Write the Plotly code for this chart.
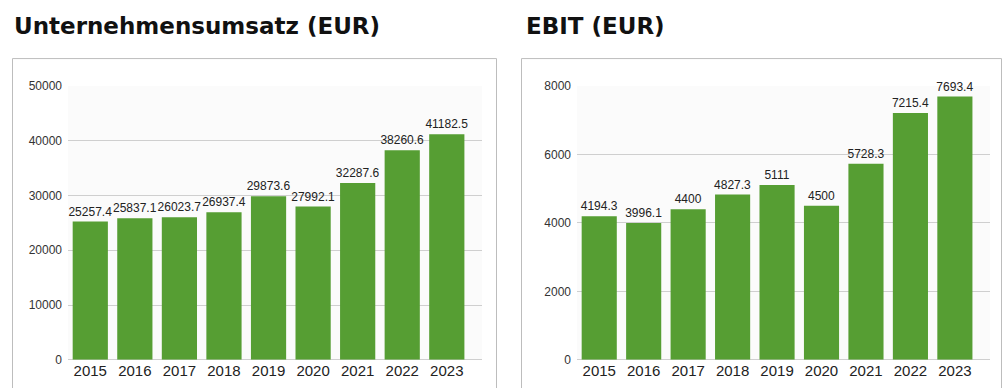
import plotly.graph_objects as go

# Data
years = ["2015", "2016", "2017", "2018", "2019", "2020", "2021", "2022", "2023"]
umsatz = [25257.4, 25837.1, 26023.7, 26937.4, 29873.6, 27992.1, 32287.6, 38260.6, 41182.5]
ebit = [4194.3, 3996.1, 4400, 4827.3, 5111, 4500, 5728.3, 7215.4, 7693.4]
umsatz_ticks = [0, 10000, 20000, 30000, 40000, 50000]
ebit_ticks = [0, 2000, 4000, 6000, 8000]

W, H = 1008, 388
BAR = "#569e33"
GRID = "#cfcfcf"
FONT = "Liberation Sans, Arial, sans-serif"
TITLE_FONT = "DejaVu Sans, sans-serif"


def px_x(v):
    return v / W


def px_y(v):
    return (H - v) / H


def fmt(v):
    return f"{v:g}"


fig = go.Figure()

for vals, xa, ya in [(umsatz, "x", "y"), (ebit, "x2", "y2")]:
    fig.add_trace(go.Bar(
        x=years, y=vals, xaxis=xa, yaxis=ya,
        marker=dict(color=BAR, line=dict(width=0)), width=0.79,
        text=[fmt(v) for v in vals], textposition="outside",
        constraintext="none",
        textfont=dict(family=FONT, size=12, color="#222"),
        cliponaxis=False, showlegend=False,
    ))

ydom = [px_y(366), px_y(82)]
xcommon = dict(
    type="category", range=[-0.5, 8.79], showgrid=False, showline=False,
    ticks="", tickfont=dict(family=FONT, size=15, color="#222"),
    ticklabelstandoff=0,
)
ycommon = dict(
    showgrid=True, gridcolor=GRID, gridwidth=1, zeroline=True,
    zerolinecolor=GRID, zerolinewidth=1, showline=False, ticks="",
    tickformat="d",
    tickfont=dict(family=FONT, size=12, color="#333"),
    ticklabelstandoff=5,
)

fig.update_layout(
    width=W, height=H,
    margin=dict(l=0, r=0, t=0, b=0),
    paper_bgcolor="white", plot_bgcolor="#fbfbfb",
    xaxis=dict(domain=[px_x(68), px_x(482)], anchor="y", **xcommon),
    yaxis=dict(domain=ydom, anchor="x", range=[0, 50000],
               tickvals=umsatz_ticks, **ycommon),
    xaxis2=dict(domain=[px_x(577), px_x(990)], anchor="y2", **xcommon),
    yaxis2=dict(domain=ydom, anchor="x2", range=[0, 8000],
                tickvals=ebit_ticks, **ycommon),
    shapes=[
        dict(type="rect", xref="paper", yref="paper",
             x0=px_x(12.5), x1=px_x(496.5), y0=px_y(53.5), y1=px_y(400),
             line=dict(color="#bdbdbd", width=1), fillcolor="rgba(0,0,0,0)",
             layer="below"),
        dict(type="rect", xref="paper", yref="paper",
             x0=px_x(521.5), x1=px_x(1001.5), y0=px_y(53.5), y1=px_y(400),
             line=dict(color="#bdbdbd", width=1), fillcolor="rgba(0,0,0,0)",
             layer="below"),
    ],
    annotations=[
        dict(text="<b>Unternehmensumsatz (EUR)</b>", xref="paper", yref="paper",
             x=px_x(12), y=px_y(4), xanchor="left", yanchor="top",
             showarrow=False, font=dict(family=TITLE_FONT, size=23, color="#111")),
        dict(text="<b>EBIT (EUR)</b>", xref="paper", yref="paper",
             x=px_x(524), y=px_y(4), xanchor="left", yanchor="top",
             showarrow=False, font=dict(family=TITLE_FONT, size=23, color="#111")),
    ],
)

fig.write_html("out.html")
